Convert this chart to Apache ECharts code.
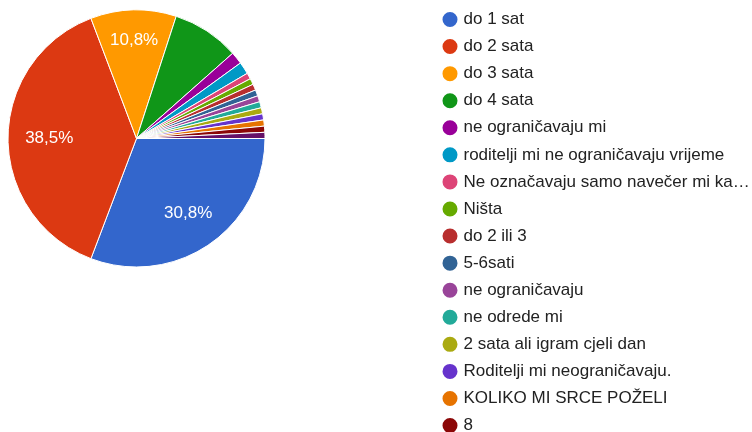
<!DOCTYPE html>
<html>
<head>
<meta charset="utf-8">
<script src="https://cdn.jsdelivr.net/npm/echarts@6/dist/echarts.min.js"></script>
<style>
html,body{margin:0;padding:0;background:#fff;}
#chart{width:752px;height:432px;}
</style>
</head>
<body>
<div id="chart"></div>
<script>
var categories = [
  'do 1 sat',
  'do 2 sata',
  'do 3 sata',
  'do 4 sata',
  'ne ograničavaju mi',
  'roditelji mi ne ograničavaju vrijeme',
  'Ne označavaju samo navečer mi kažu da prestanem',
  'Ništa',
  'do 2 ili 3',
  '5-6sati',
  'ne ograničavaju',
  'ne odrede mi',
  '2 sata ali igram cjeli dan',
  'Roditelji mi neograničavaju.',
  'KOLIKO MI SRCE POŽELI',
  '8',
  'ostalo'
];
var counts = [40, 50, 14, 11, 2, 2, 1, 1, 1, 1, 1, 1, 1, 1, 1, 1, 1];
var colors = ['#3366cc','#dc3912','#ff9900','#109618','#990099','#0099c6','#dd4477','#66aa00','#b82e2e','#316395','#994499','#22aa99','#aaaa11','#6633cc','#e67300','#8b0707','#651067'];
var labeledIdx = [0, 1, 2];

var FONT = '"Liberation Sans", Arial, sans-serif';
var CENTER = [136.5, 138.5];
var R = 128.5;
var labelInner = [47.5, 40, 62.5];
var total = counts.reduce(function(a,b){return a+b;},0);
var data = categories.map(function(n,i){ return {name:n, value:counts[i], itemStyle:{color:colors[i]}}; });

var series = [{
  type:'pie',
  center:CENTER,
  radius:[0,R],
  startAngle:0,
  clockwise:true,
  avoidLabelOverlap:false,
  silent:true,
  label:{show:false},
  labelLine:{show:false},
  itemStyle:{borderColor:'#fff', borderWidth:1},
  data:data
}];
labeledIdx.forEach(function(idx, k){
  series.push({
    type:'pie',
    center:CENTER,
    radius:[labelInner[k],R],
    startAngle:0,
    clockwise:true,
    silent:true,
    avoidLabelOverlap:false,
    itemStyle:{color:'rgba(0,0,0,0)'},
    labelLine:{show:false},
    label:{
      show:true, position:'inside', color:'#fff', fontSize:17, fontFamily:FONT,
      formatter:function(p){
        if(p.dataIndex!==idx) return '';
        return (p.value/total*100).toFixed(1).replace('.',',')+'%';
      }
    },
    data:categories.map(function(n,i){ return {name:n, value:counts[i]}; })
  });
});

var chart = echarts.init(document.getElementById('chart'), null, {renderer:'canvas'});
chart.setOption({
  animation:false,
  textStyle:{fontFamily:FONT},
  legend:{
    orient:'vertical',
    left:440.5, top:10, height:800,
    padding:0,
    icon:'circle',
    itemWidth:17, itemHeight:17,
    itemGap:8.07,
    data: categories.slice(0,16),
    textStyle:{fontFamily:FONT, fontSize:17, color:'#222', width:300, overflow:'truncate', ellipsis:'…'},
    selectedMode:false
  },
  series:series
});
</script>
</body>
</html>
